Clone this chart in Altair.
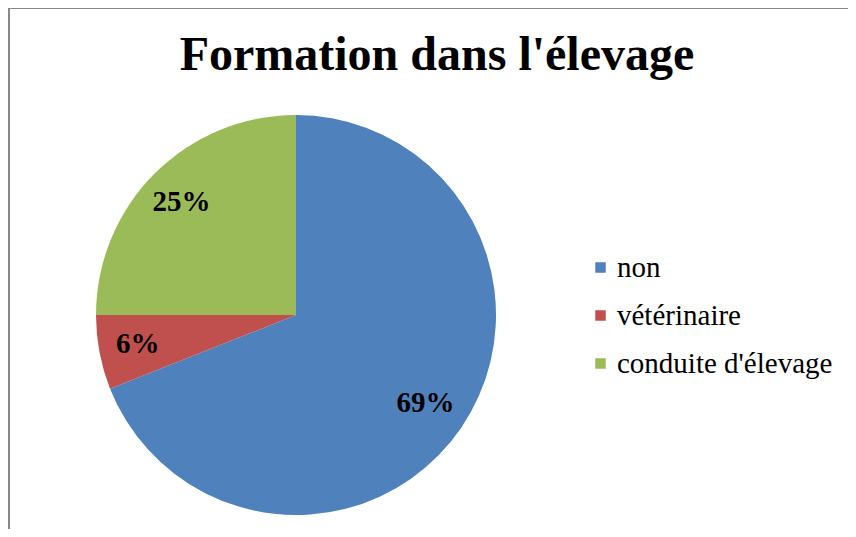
import altair as alt
import pandas as pd

categories = ["non", "vétérinaire", "conduite d'élevage"]
values = [69, 6, 25]
labels = ["69%", "6%", "25%"]
colors = ["#4F81BD", "#C0504D", "#9BBB59"]

df = pd.DataFrame({"cat": categories, "val": values, "label": labels, "idx": list(range(len(categories)))})

CX, CY, R = 288, 307, 200

arc = alt.Chart(df).mark_arc(outerRadius=R, stroke=None).encode(
    theta=alt.Theta("val:Q", stack=True),
    order=alt.Order("idx:Q"),
    color=alt.Color(
        "cat:N",
        scale=alt.Scale(domain=categories, range=colors),
        legend=alt.Legend(
            title=None,
            orient="none",
            legendX=578,
            legendY=245,
            symbolType="square",
            symbolSize=110,
            symbolStrokeWidth=0,
            symbolOpacity=1,
            labelFont="Liberation Serif",
            labelFontSize=29,
            labelColor="black",
            labelOffset=2,
            labelLimit=0,
            rowPadding=18,
            padding=0,
        ),
    ),
    x=alt.value(CX),
    y=alt.value(CY),
)

text = alt.Chart(df).mark_text(
    radius=159, font="Liberation Serif", fontSize=29, fontWeight="bold", color="black"
).encode(
    theta=alt.Theta("val:Q", stack=True),
    order=alt.Order("idx:Q"),
    detail="cat:N",
    text="label:N",
    x=alt.value(CX - 2),
    y=alt.value(CY - 1),
)

top_border = alt.Chart(df).mark_rule(color="#898989", strokeWidth=2).encode(
    x=alt.value(0), x2=alt.value(860), y=alt.value(0)
)
left_border = alt.Chart(df).mark_rule(color="#898989", strokeWidth=2).encode(
    x=alt.value(1), y=alt.value(0), y2=alt.value(600)
)

chart = alt.layer(arc, text, top_border, left_border).properties(
    width=840,
    height=521,
    padding=0,
    autosize=alt.AutoSizeParams(type="none"),
    title=alt.TitleParams(
        "Formation dans l'élevage",
        font="Liberation Serif",
        fontSize=48,
        fontWeight="bold",
        color="black",
        anchor="middle",
        frame="group",
        offset=0,
        baseline="alphabetic",
        dy=111,
        dx=9,
    ),
).configure_view(stroke=None).configure(background="white")

chart.save("out.html", embed_options={"renderer": "svg", "actions": False})
